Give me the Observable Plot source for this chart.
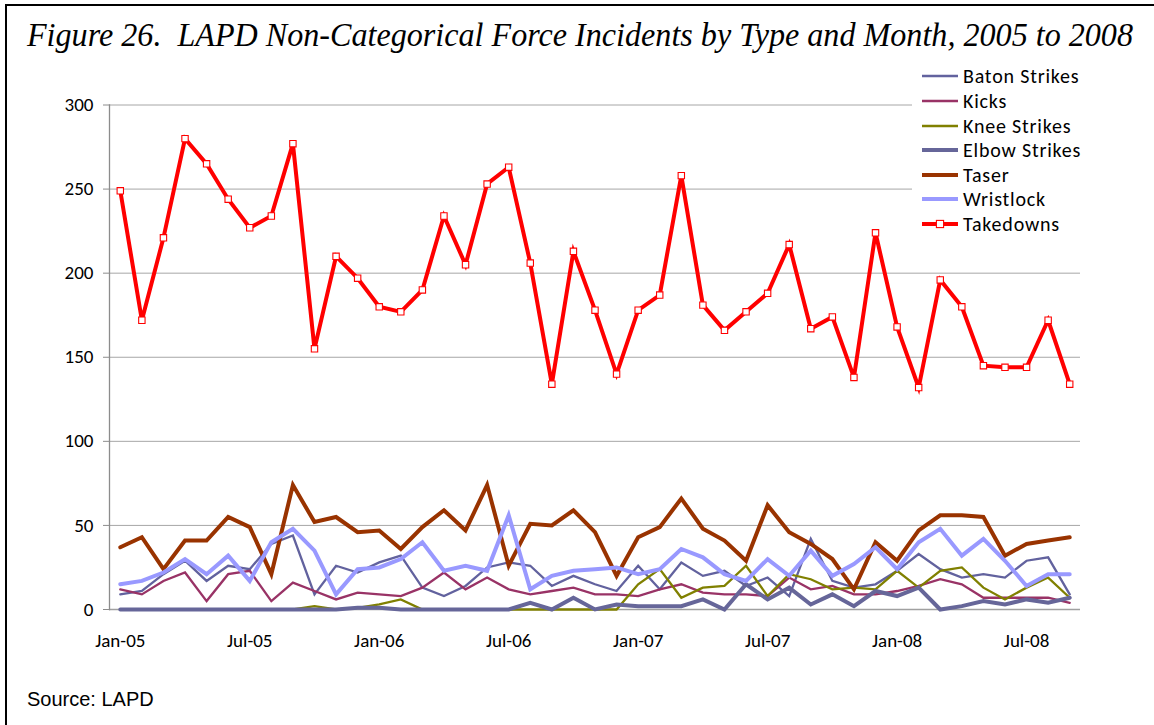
<!DOCTYPE html>
<html>
<head>
<meta charset="utf-8">
<script src="https://cdn.jsdelivr.net/npm/d3@7"></script>
<script src="https://cdn.jsdelivr.net/npm/@observablehq/plot@0.6"></script>
<style>
  html, body { margin: 0; padding: 0; background: #fff; }
  #wrap { position: relative; width: 1154px; height: 725px; overflow: hidden; background: #fff; }
  #frame { position: absolute; left: 5px; top: 4px; width: 1200px; height: 800px;
           border-top: 2px solid #000; border-left: 2px solid #000; }
  #title { position: absolute; left: 27px; top: 19px; font-family: "Liberation Serif", serif;
           font-style: italic; font-size: 33px; line-height: 1; white-space: pre; transform-origin: 0 0; color: #000; }
  #chart { position: absolute; left: 0; top: 62px; }
  #legend { position: absolute; left: 912px; top: 62px; width: 178px; height: 176px; background: #fff; }
  #legend .row { position: absolute; left: 0; height: 24px; display: flex; align-items: center; }
  #legend .row span { font-family: Carlito, Lato, sans-serif; font-size: 20px; letter-spacing: 0.8px; line-height: 1; color: #000; margin-left: -1px; white-space: nowrap; }
  #source { position: absolute; left: 27px; top: 689px; font-family: "Liberation Sans", Arial, sans-serif;
            font-size: 20px; line-height: 1; color: #000; }
</style>
</head>
<body>
<div id="wrap">
  <div id="frame"></div>
  <div id="title">Figure 26.  LAPD Non-Categorical Force Incidents by Type and Month, 2005 to 2008</div>
  <div id="chart"></div>
  <div id="legend"></div>
  <div id="source">Source: LAPD</div>
</div>
<script>
// ---- Data ----
const months = [
  "Jan-05","Feb-05","Mar-05","Apr-05","May-05","Jun-05","Jul-05","Aug-05","Sep-05","Oct-05","Nov-05","Dec-05",
  "Jan-06","Feb-06","Mar-06","Apr-06","May-06","Jun-06","Jul-06","Aug-06","Sep-06","Oct-06","Nov-06","Dec-06",
  "Jan-07","Feb-07","Mar-07","Apr-07","May-07","Jun-07","Jul-07","Aug-07","Sep-07","Oct-07","Nov-07","Dec-07",
  "Jan-08","Feb-08","Mar-08","Apr-08","May-08","Jun-08","Jul-08","Aug-08","Sep-08"
];
const tickLabels = ["Jan-05","Jul-05","Jan-06","Jul-06","Jan-07","Jul-07","Jan-08","Jul-08"];
const yTicks = [0, 50, 100, 150, 200, 250, 300];

const batonStrikes = [9, 11, 21, 29, 17, 26, 24, 39, 44, 9, 26, 22, 28, 32, 13, 8, 14, 25, 28, 26, 14, 20, 15, 11, 26, 12, 28, 20, 23, 14, 19, 8, 42, 17, 13, 15, 23, 33, 24, 19, 21, 19, 29, 31, 9];
const kicks        = [12, 9, 17, 22, 5, 21, 23, 5, 16, 11, 6, 10, 9, 8, 13, 22, 12, 19, 12, 9, 11, 13, 9, 9, 8, 12, 15, 10, 9, 9, 8, 19, 12, 14, 9, 9, 11, 14, 18, 15, 7, 7, 7, 7, 4];
const kneeStrikes  = [0, 0, 0, 0, 0, 0, 0, 0, 0, 2, 0, 1, 3, 6, 0, 0, 0, 0, 0, 0, 0, 0, 0, 0, 15, 24, 7, 13, 14, 26, 8, 21, 18, 12, 13, 12, 23, 13, 23, 25, 13, 6, 13, 19, 7];
const elbowStrikes = [0, 0, 0, 0, 0, 0, 0, 0, 0, 0, 0, 1, 1, 0, 0, 0, 0, 0, 0, 4, 0, 7, 0, 3, 2, 2, 2, 6, 0, 15, 6, 13, 3, 9, 2, 11, 8, 13, 0, 2, 5, 3, 6, 4, 7];
const taser        = [37, 43, 24, 41, 41, 55, 49, 21, 74, 52, 55, 46, 47, 36, 49, 59, 47, 74, 26, 51, 50, 59, 46, 20, 43, 49, 66, 48, 41, 29, 62, 46, 39, 30, 12, 40, 29, 47, 56, 56, 55, 32, 39, 41, 43];
const wristlock    = [15, 17, 22, 30, 21, 32, 17, 40, 48, 35, 9, 24, 25, 30, 40, 23, 26, 23, 56, 12, 20, 23, 24, 25, 21, 24, 36, 31, 21, 17, 30, 20, 35, 20, 27, 37, 24, 40, 48, 32, 42, 29, 14, 21, 21];
const takedowns    = [249, 172, 221, 280, 265, 244, 227, 234, 277, 155, 210, 197, 180, 177, 190, 234, 205, 253, 263, 206, 134, 213, 178, 140, 178, 187, 258, 181, 166, 177, 188, 217, 167, 174, 138, 224, 168, 132, 196, 180, 145, 144, 144, 172, 134];

const seriesNames = ["Baton Strikes", "Kicks", "Knee Strikes", "Elbow Strikes", "Taser", "Wristlock", "Takedowns"];
const seriesValues = [batonStrikes, kicks, kneeStrikes, elbowStrikes, taser, wristlock, takedowns];
const seriesColors = ["#62629e", "#993366", "#808000", "#666699", "#993300", "#9999ff", "#ff0000"];
const seriesWidths = [2.3, 2.3, 2.3, 4, 4, 4, 4];

// ---- Chart ----
const rows = (vals) => vals.map((v, i) => ({month: months[i], value: v}));

const marks = [
  Plot.gridY(yTicks.filter(d => d > 0), {stroke: "#a6a6a6", strokeOpacity: 1, strokeWidth: 1}),
  Plot.ruleY([0], {stroke: "#a0a0a0", strokeWidth: 1.3}),
  Plot.frame({anchor: "left", stroke: "#8c8c8c", strokeWidth: 1.3}),
  Plot.axisY({ticks: yTicks, tickSize: 6, tickPadding: 10, stroke: "#8c8c8c", fill: "#000",
              fontSize: 19, fontFamily: "Carlito, Lato, sans-serif", label: null}),
  Plot.axisX({ticks: tickLabels, tickSize: 0, tickPadding: 24, fill: "#000",
              fontSize: 19, fontFamily: "Carlito, Lato, sans-serif", label: null})
];
seriesValues.forEach((vals, k) => {
  marks.push(Plot.line(rows(vals), {x: "month", y: "value", stroke: seriesColors[k],
    strokeWidth: seriesWidths[k], strokeLinejoin: "miter", strokeMiterlimit: 4, curve: "linear"}));
});
marks.push(Plot.dot(rows(takedowns), {x: "month", y: "value", symbol: "square", r: 3.6,
  fill: "#fff", stroke: "#ff0000", strokeWidth: 1.1}));

const chart = Plot.plot({
  width: 1154,
  height: 597,
  marginTop: 42.5,
  marginBottom: 50,
  marginLeft: 109,
  marginRight: 74,
  style: {background: "transparent", color: "#000"},
  x: {type: "point", domain: months, padding: 0.5, align: 0.5, round: false, axis: null},
  y: {domain: [0, 300], axis: null},
  marks
});
document.getElementById("chart").appendChild(chart);

// ---- Legend ----
const legend = document.getElementById("legend");
seriesNames.forEach((name, k) => {
  const row = document.createElement("div");
  row.className = "row";
  row.style.top = (2.4 + 24.55 * k) + "px";
  const ns = "http://www.w3.org/2000/svg";
  const svg = document.createElementNS(ns, "svg");
  svg.setAttribute("width", 52); svg.setAttribute("height", 24);
  const ln = document.createElementNS(ns, "line");
  ln.setAttribute("x1", 10); ln.setAttribute("x2", 46); ln.setAttribute("y1", 12); ln.setAttribute("y2", 12);
  ln.setAttribute("stroke", seriesColors[k]); ln.setAttribute("stroke-width", seriesWidths[k]);
  svg.appendChild(ln);
  if (name === "Takedowns") {
    const r = document.createElementNS(ns, "rect");
    r.setAttribute("x", 24.4); r.setAttribute("y", 8.4); r.setAttribute("width", 7.2); r.setAttribute("height", 7.2);
    r.setAttribute("fill", "#fff"); r.setAttribute("stroke", "#ff0000"); r.setAttribute("stroke-width", 1.1);
    svg.appendChild(r);
  }
  row.appendChild(svg);
  const sp = document.createElement("span");
  sp.textContent = name;
  row.appendChild(sp);
  legend.appendChild(row);
});

// Fit title to reference width
const title = document.getElementById("title");
const w = title.getBoundingClientRect().width;
title.style.transform = `scaleX(${1106 / w})`;
</script>
</body>
</html>
